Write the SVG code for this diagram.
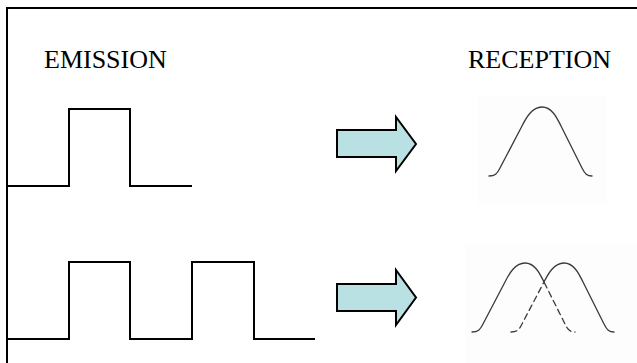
<svg xmlns="http://www.w3.org/2000/svg" width="637" height="363" viewBox="0 0 637 363">
  <style>
    .label { font-family: "Liberation Serif", "Times New Roman", serif; font-size: 26px; fill: #000; }
    .pulse { fill: none; stroke: #000; stroke-width: 2; stroke-linejoin: miter; }
    .curve { fill: none; stroke: #3a3a3a; stroke-width: 1.3; stroke-linecap: round; }
    .dash { stroke-dasharray: 6 4; }
    .arrow { fill: #b9e0e3; stroke: #000; stroke-width: 2; stroke-linejoin: miter; }
    .bg { fill: #fdfdfd; }
  </style>
  <defs>
    <path id="gauss" d="M-53,0 C-47,0 -45,-2 -42,-8 L-20,-50 C-16,-58 -10,-69 0,-69 C10,-69 15,-58 19,-50 L40,-8 C43,-2 45,0 50,0"/>
    <clipPath id="leftHalf"><rect x="0" y="200" width="544" height="163"/></clipPath>
    <clipPath id="rightHalf"><rect x="544" y="200" width="93" height="163"/></clipPath>
  </defs>
  <rect width="637" height="363" fill="#fff"/>

  <g id="frame">
    <path d="M7,363 V8 H637" fill="none" stroke="#000" stroke-width="2"/>
  </g>

  <g id="emission-label">
    <text class="label" x="44" y="68">EMISSION</text>
  </g>
  <g id="reception-label">
    <text class="label" x="468" y="68">RECEPTION</text>
  </g>

  <g id="single-pulse">
    <path class="pulse" d="M7,186 H69 V109 H130 V186 H192"/>
  </g>
  <g id="double-pulse">
    <path class="pulse" d="M7,339 H69 V262 H130 V339 H192 V262 H254 V339 H315"/>
  </g>

  <g id="single-reception">
    <rect class="bg" x="477" y="95" width="129" height="108"/>
    <use href="#gauss" class="curve" transform="translate(542,176)"/>
  </g>

  <g id="double-reception">
    <rect class="bg" x="465" y="245" width="172" height="118"/>
    <g clip-path="url(#leftHalf)">
      <use href="#gauss" class="curve" transform="translate(525,332)"/>
      <use href="#gauss" class="curve dash" transform="translate(564,332)"/>
    </g>
    <g clip-path="url(#rightHalf)">
      <use href="#gauss" class="curve dash" transform="translate(525,332)"/>
      <use href="#gauss" class="curve" transform="translate(564,332)"/>
    </g>
  </g>

  <g id="connectors">
    <path class="arrow" d="M337,130 H396 V117 L416,144 L396,171 V157 H337 Z"/>
    <path class="arrow" d="M337,284 H396 V270 L416,297.5 L396,325 V311 H337 Z"/>
  </g>
</svg>
